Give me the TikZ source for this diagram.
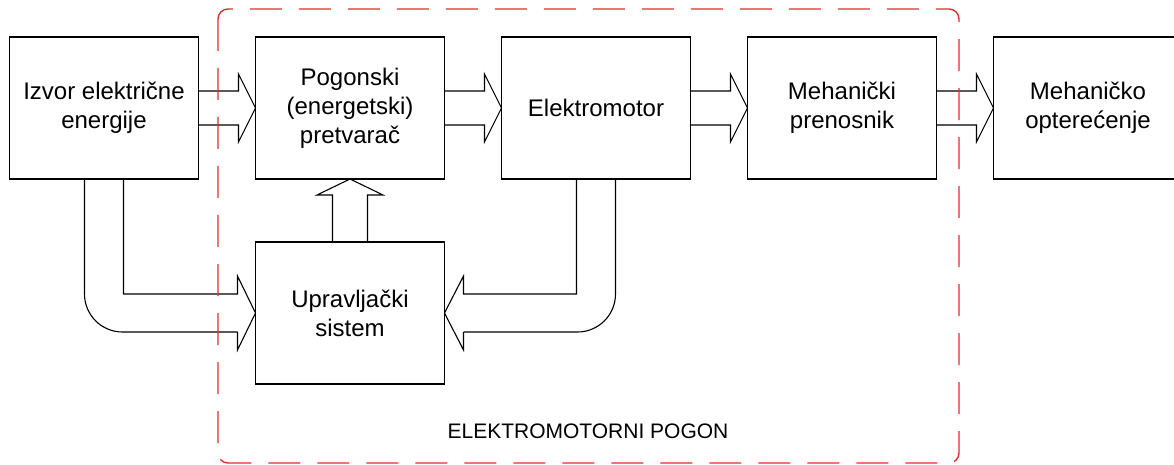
\documentclass[tikz,border=0pt]{standalone}
\usepackage{fontspec}
\setmainfont{Liberation Sans}
\usepackage{tikz}
\usetikzlibrary{
  calc, positioning
}
\usepackage{xcolor}
\definecolor{dashred}{RGB}{225,45,45}

\tikzset{
  block/.style={draw, line width=0.55pt, minimum width=94.5pt, minimum height=71pt,
    inner sep=0pt, outer sep=0pt, align=center, font=\fontsize{12}{14.5}\selectfont},
  hollow/.style={draw, line width=0.55pt, line join=miter},
  frame/.style={draw=dashred, line width=0.7pt, dash pattern=on 16pt off 8.5pt,
    rounded corners=5pt}
}

\begin{document}
\begin{tikzpicture}[x=0.5pt, y=-0.5pt]
\useasboundingbox (0,0) rectangle (1174,465);

% Upper row of blocks
\node[block] (izvor) at (104,108) {Izvor električne\\energije};
\node[block, right=28.5pt of izvor] (pretvarac) {Pogonski\\(energetski)\\pretvarač};
\node[block, right=28.5pt of pretvarac] (motor) {Elektromotor};
\node[block, right=28.5pt of motor] (prenosnik) {Mehanički\\prenosnik};
\node[block, right=28.5pt of prenosnik] (teret) {Mehaničko\\opterećenje};

% Control block
\node[block, below=31.5pt of pretvarac] (upravljanje) {Upravljački\\sistem};

% Straight hollow arrows
\foreach \a/\b in {izvor/pretvarac, pretvarac/motor, motor/prenosnik, prenosnik/teret}
  \draw[hollow] ($(\a.east)+(0,-17)$) -- ($(\b.west)+(-17,-17)$) -- ($(\b.west)+(-17,-34)$)
    -- (\b.west) -- ($(\b.west)+(-17,34)$) -- ($(\b.west)+(-17,17)$) -- ($(\a.east)+(0,17)$);

% Control to converter
\draw[hollow] ($(upravljanje.north)+(-17.5,0)$) -- ($(pretvarac.south)+(-17.5,16)$)
  -- ($(pretvarac.south)+(-33,16)$) -- (pretvarac.south) -- ($(pretvarac.south)+(33,16)$)
  -- ($(pretvarac.south)+(17.5,16)$) -- ($(upravljanje.north)+(17.5,0)$);

% Source to control
\draw[hollow, rounded corners=19pt] ($(izvor.south)+(-19.5,0)$) |- ($(upravljanje.west)+(-18,19)$);
\draw[hollow] ($(upravljanje.west)+(-18,19)$) -- ($(upravljanje.west)+(-18,37)$)
  -- (upravljanje.west) -- ($(upravljanje.west)+(-18,-37)$) -- ($(upravljanje.west)+(-18,-19)$)
  -| ($(izvor.south)+(19.5,0)$);

% Motor to control
\draw[hollow, rounded corners=19pt] ($(motor.south)+(19.5,0)$) |- ($(upravljanje.east)+(19,19)$);
\draw[hollow] ($(upravljanje.east)+(19,19)$) -- ($(upravljanje.east)+(19,37)$)
  -- (upravljanje.east) -- ($(upravljanje.east)+(19,-37)$) -- ($(upravljanje.east)+(19,-19)$)
  -| ($(motor.south)+(-19.5,0)$);

% Drive boundary
\draw[frame] (218,9) rectangle (959,463);
\node[font=\fontsize{10.5}{12}\selectfont] (pogon) at (588,431) {ELEKTROMOTORNI POGON};
\end{tikzpicture}
\end{document}
